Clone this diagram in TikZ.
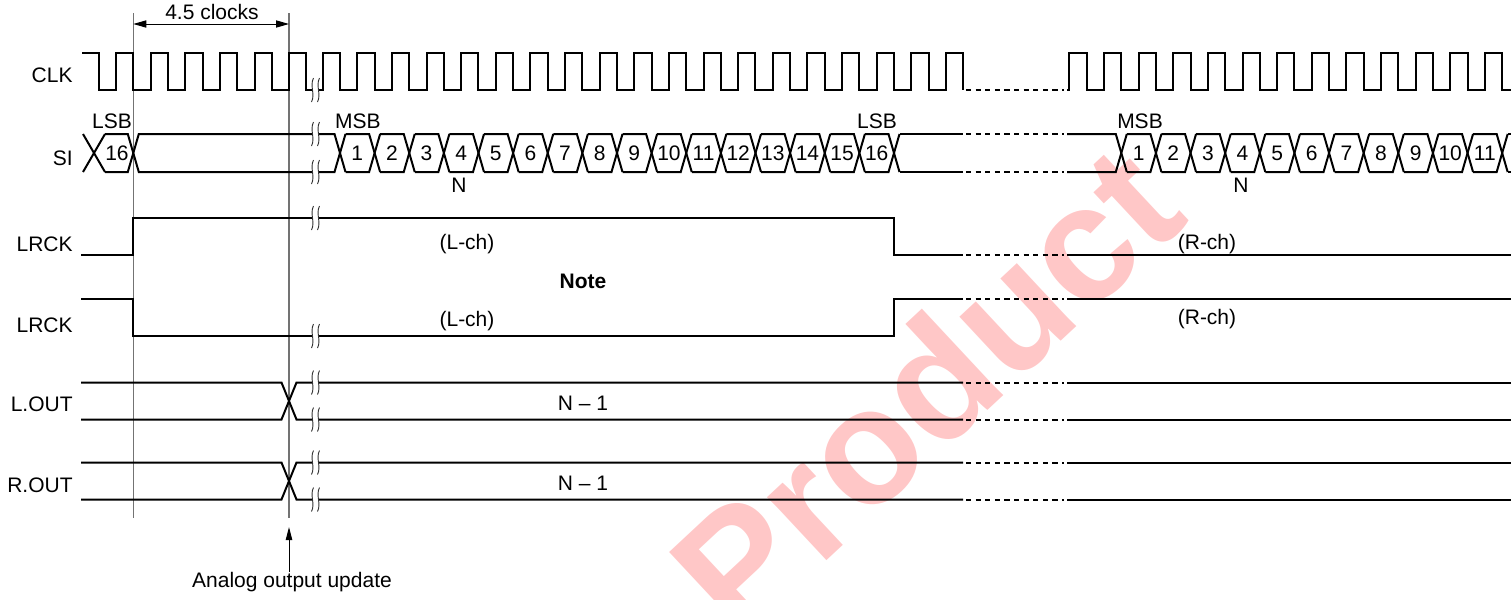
\documentclass[tikz,border=0pt]{standalone}
\usepackage{fontspec}
\setmainfont{Liberation Sans}
\usetikzlibrary{arrows.meta}

% break mark on a signal line at height #1
\newcommand{\sigbreak}[1]{%
  \fill[white] (313.5,#1-12) .. controls (309.5,#1-4) and (315.5,#1+4) .. (311.5,#1+12)
    -- (317.5,#1+12) .. controls (321.5,#1+4) and (315.5,#1-4) .. (319.5,#1-12) -- cycle;
  \draw[line width=0.45pt, black!80] (313.5,#1-12) .. controls (309.5,#1-4) and (315.5,#1+4) .. (311.5,#1+12);
  \draw[line width=0.45pt, black!80] (319.5,#1-12) .. controls (315.5,#1-4) and (321.5,#1+4) .. (317.5,#1+12);
}

\begin{document}
\begin{tikzpicture}[x=0.5pt, y=-0.5pt,
  sig/.style = {line width=1pt, line join=miter},
  dots/.style = {line width=1pt, dash pattern=on 2.6pt off 2.2pt},
  guide/.style = {black!55, line width=0.55pt},
  lbl/.style = {inner sep=0pt, font=\fontsize{10.5}{12}\selectfont}]
\useasboundingbox (0,0) rectangle (1511,600);
\def\per{34.625}

% watermark
\node[rotate=43, anchor=base west, inner sep=0pt, text=red!22,
  font=\bfseries\fontsize{82}{82}\selectfont] (mark) at (738,643) {Product};

% signal names
\node[lbl, anchor=east] (lclk) at (73,75) {CLK};
\node[lbl, anchor=east] (lsi) at (73,158) {SI};
\node[lbl, anchor=east] (llr1) at (73,244) {LRCK};
\node[lbl, anchor=east] (llr2) at (73,325) {LRCK};
\node[lbl, anchor=east] (llo) at (73,404) {L.OUT};
\node[lbl, anchor=east] (lro) at (73,485) {R.OUT};

% guides
\coordinate (g1t) at (133.3,13);
\coordinate (g1b) at (133.3,518);
\coordinate (g2t) at (289,13);
\coordinate (g2b) at (289,518);
\draw[guide] (g1t) -- (g1b);
\draw[guide] (g2t) -- (g2b);
\coordinate (d1) at (133.3,24);
\coordinate (d2) at (289,24);
\draw[line width=0.5pt, {Triangle[length=6.5pt,width=3.6pt]}-{Triangle[length=6.5pt,width=3.6pt]}] (d1) -- (d2);
\node[lbl] (clocks) at (212,12) {4.5 clocks};

% CLK
\draw[sig] (82,52.5) -- (98.7,52.5) -- (98.7,90)
  foreach \k in {0,...,5} { -- ({116+\k*\per},90) -- ({116+\k*\per},52.5)
    -- ({133.3+\k*\per},52.5) -- ({133.3+\k*\per},90) }
  -- (322.7,90) -- (322.7,52.5) -- (340,52.5) -- (340,90)
  foreach \k in {0,...,17} { -- ({357.3+\k*\per},90) -- ({357.3+\k*\per},52.5)
    -- ({374.6+\k*\per},52.5) -- ({374.6+\k*\per},90) };
\draw[dots] (966,90) -- (1064,90);
\draw[sig] (1067,90) -- (1069.4,90) -- (1069.4,52.5) -- (1086.7,52.5) -- (1086.7,90)
  foreach \k in {0,...,11} { -- ({1104+\k*\per},90) -- ({1104+\k*\per},52.5)
    -- ({1121.3+\k*\per},52.5) -- ({1121.3+\k*\per},90) }
  -- (1511,90);

% SI
\draw[sig] (83,134) -- (105,172);
\draw[sig] (83,172) -- (105,134);
\draw[sig] (105,134) -- (127.8,134) -- (138.8,172) -- (334.5,172) -- (345.5,134);
\draw[sig] (105,172) -- (127.8,172) -- (138.8,134) -- (334.5,134) -- (345.5,172);
\node[lbl] (bit0) at (117,153) {16};
\foreach \i in {1,...,16} {
  \draw[sig] ({340+(\i-1)*\per+5.5},134) -- ({340+\i*\per-5.5},134) -- ({340+\i*\per+5.5},172);
  \draw[sig] ({340+(\i-1)*\per+5.5},172) -- ({340+\i*\per-5.5},172) -- ({340+\i*\per+5.5},134);
  \node[lbl] (bit\i) at ({340+(\i-0.5)*\per},153) {\i};
}
\draw[sig] (899.5,134) -- (963,134);
\draw[sig] (899.5,172) -- (963,172);
\draw[dots] (966,134) -- (1064,134);
\draw[dots] (966,172) -- (1064,172);
\draw[sig] (1067,134) -- (1115.8,134) -- (1126.8,172);
\draw[sig] (1067,172) -- (1115.8,172) -- (1126.8,134);
\foreach \i in {1,...,11} {
  \draw[sig] ({1121.3+(\i-1)*\per+5.5},134) -- ({1121.3+\i*\per-5.5},134) -- ({1121.3+\i*\per+5.5},172);
  \draw[sig] ({1121.3+(\i-1)*\per+5.5},172) -- ({1121.3+\i*\per-5.5},172) -- ({1121.3+\i*\per+5.5},134);
  \node[lbl] (bitb\i) at ({1121.3+(\i-0.5)*\per},153) {\i};
}
\draw[sig] (1507.7,134) -- (1511,134);
\draw[sig] (1507.7,172) -- (1511,172);
\node[lbl] (lsb1) at (112,121) {LSB};
\node[lbl] (msb1) at (358,121) {MSB};
\node[lbl] (lsb2) at (877,121) {LSB};
\node[lbl] (msb2) at (1140,121) {MSB};
\node[lbl] (n1) at (459,185) {N};
\node[lbl] (n2) at (1241,185) {N};

% LRCK
\draw[sig] (81,254.5) -- (133.3,254.5) -- (133.3,218) -- (894,218) -- (894,254.5) -- (963,254.5);
\draw[dots] (966,254.5) -- (1064,254.5);
\draw[sig] (1067,254.5) -- (1511,254.5);
\draw[sig] (81,299) -- (133.3,299) -- (133.3,336) -- (894,336) -- (894,299) -- (963,299);
\draw[dots] (966,299) -- (1064,299);
\draw[sig] (1067,299) -- (1511,299);
\node[lbl] (lch1) at (467,244) {(L-ch)};
\node[lbl] (rch1) at (1207,244) {(R-ch)};
\node[lbl, font=\bfseries\fontsize{10.5}{12}\selectfont] (note) at (583,281) {Note};
\node[lbl] (lch2) at (467,321) {(L-ch)};
\node[lbl] (rch2) at (1207,319) {(R-ch)};

% L.OUT and R.OUT
\foreach \t/\b in {382.5/419.5, 462.5/499.5} {
  \draw[sig] (81,\t) -- (281.5,\t) -- (296.5,\b) -- (963,\b);
  \draw[sig] (81,\b) -- (281.5,\b) -- (296.5,\t) -- (963,\t);
  \draw[dots] (966,\t) -- (1064,\t);
  \draw[dots] (966,\b) -- (1064,\b);
  \draw[sig] (1067,\t) -- (1511,\t);
  \draw[sig] (1067,\b) -- (1511,\b);
}
\node[lbl] (nl) at (583,403) {N -- 1};
\node[lbl] (nr) at (583,483) {N -- 1};

% breaks
\foreach \y in {90,134,172,218,336,382.5,419.5,462.5,499.5} {\sigbreak{\y}}

% update marker
\node[lbl] (upd) at (292,582) {Analog output update};
\coordinate (tip) at (289,527);
\draw[line width=0.5pt, -{Triangle[length=6.5pt,width=3.2pt]}] (upd.north -| tip) -- (tip);
\end{tikzpicture}
\end{document}
